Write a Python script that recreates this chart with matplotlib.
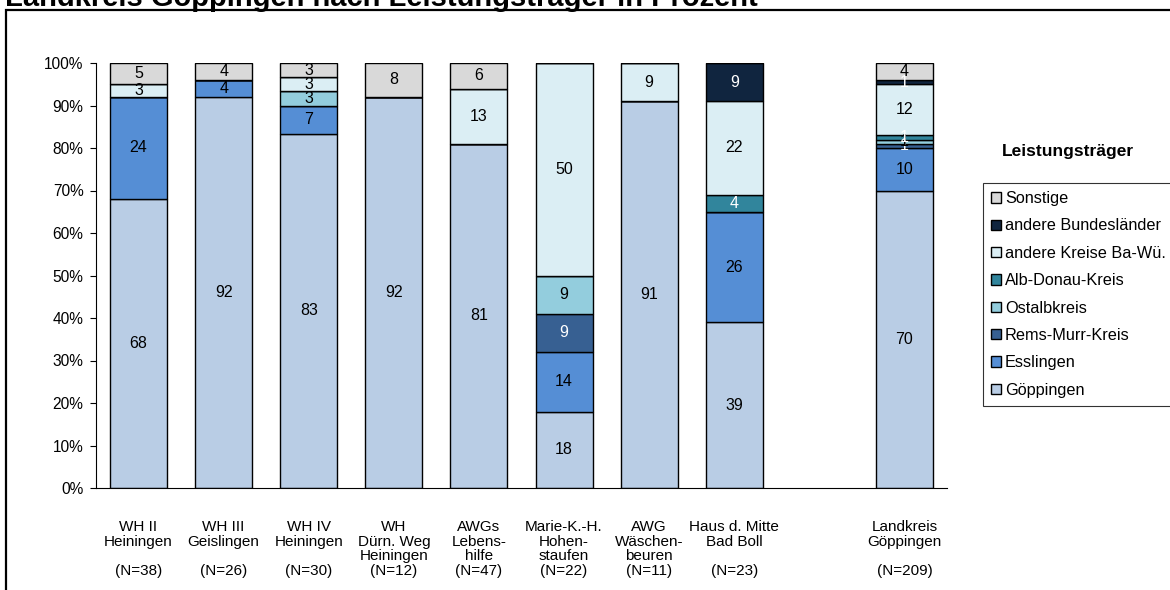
import matplotlib
matplotlib.use('Agg')
import matplotlib.pyplot as plt
from matplotlib.patches import Rectangle
import numpy as np

plt.rcParams['font.family'] = ['Liberation Sans', 'DejaVu Sans']

# Einrichtungen (Landkreis steht etwas abgesetzt rechts)
categories = ['WH II\nHeiningen\n\n(N=38)', 'WH III\nGeislingen\n\n(N=26)',
              'WH IV\nHeiningen\n\n(N=30)', 'WH\nDürn. Weg\nHeiningen\n(N=12)',
              'AWGs\nLebens-\nhilfe\n(N=47)', 'Marie-K.-H.\nHohen-\nstaufen\n(N=22)',
              'AWG\nWäschen-\nbeuren\n(N=11)', 'Haus d. Mitte\nBad Boll\n\n(N=23)',
              'Landkreis\nGöppingen\n\n(N=209)']
positions = [0, 1, 2, 3, 4, 5, 6, 7, 9]

# Anteile in Prozent, von unten nach oben
goeppingen = [68, 92, 83.3, 92, 81, 18, 91, 39, 70]
esslingen = [24, 4, 6.7, 0, 0, 14, 0, 26, 10]
rems_murr = [0, 0, 0, 0, 0, 9, 0, 0, 1]
ostalb = [0, 0, 3.3, 0, 0, 9, 0, 0, 1]
alb_donau = [0, 0, 0, 0, 0, 0, 0, 4, 1]
andere_kreise = [3, 0, 3.3, 0, 13, 50, 9, 22, 12]
andere_bl = [0, 0, 0, 0, 0, 0, 0, 9, 1]
sonstige = [5, 4, 3.3, 8, 6, 0, 0, 0, 4]

series = [('Göppingen', goeppingen, '#B9CDE5', 'black'),
          ('Esslingen', esslingen, '#558ED5', 'black'),
          ('Rems-Murr-Kreis', rems_murr, '#376092', 'white'),
          ('Ostalbkreis', ostalb, '#93CDDD', 'black'),
          ('Alb-Donau-Kreis', alb_donau, '#31859C', 'white'),
          ('andere Kreise Ba-Wü.', andere_kreise, '#DBEEF4', 'black'),
          ('andere Bundesländer', andere_bl, '#10253F', 'white'),
          ('Sonstige', sonstige, '#D9D9D9', 'black')]

fig = plt.figure(figsize=(11.7, 5.9), dpi=100)
ax = fig.add_axes([96 / 1170, 102 / 590, 851 / 1170, 425 / 590])

bottom = np.zeros(len(positions))
handles = []
for name, vals, col, tcol in series:
    vals = np.array(vals, dtype=float)
    b = ax.bar(positions, vals, bottom=bottom, width=0.67, color=col,
               edgecolor='black', linewidth=1.0, label=name)
    handles.append(b)
    for x, v, b0 in zip(positions, vals, bottom):
        if v > 0:
            ax.text(x, b0 + v / 2, f'{round(v)}', ha='center', va='center',
                    fontsize=11.5, color=tcol)
    bottom += vals

ax.set_xlim(-0.5, 9.5)
ax.set_ylim(0, 100)
ax.set_yticks(range(0, 101, 10))
ax.set_yticklabels([f'{v}%' for v in range(0, 101, 10)], fontsize=11.2)
ax.set_xticks(positions)
ax.set_xticklabels(categories, fontsize=11, linespacing=1.06)
ax.tick_params(axis='x', length=0, pad=23)
ax.tick_params(axis='y', length=4.5, width=0.8, pad=4.5)
for s in ['top', 'right']:
    ax.spines[s].set_visible(False)
for s in ['left', 'bottom']:
    ax.spines[s].set_linewidth(0.8)

leg = fig.legend(handles[::-1], [h.get_label() for h in handles[::-1]],
                 loc='upper left', bbox_to_anchor=(983 / 1170, 1 - 183 / 590, 220 / 1170, 0),
                 mode='expand', fontsize=11.7, frameon=True, fancybox=False,
                 handlelength=0.6, handleheight=0.6, handletextpad=0.25,
                 labelspacing=0.76, borderpad=0.5, borderaxespad=0)
leg.get_frame().set_edgecolor('black')
leg.get_frame().set_linewidth(0.8)
for h in leg.legend_handles:
    h.set_edgecolor('black')
    h.set_linewidth(1.0)

fig.text(1002 / 1170, 1 - 152 / 590, 'Leistungsträger', fontsize=12.5,
         fontweight='bold', va='center', ha='left')

# Titel oben abgeschnitten wie im Original
fig.text(5 / 1170, 1 - 6 / 590, 'Landkreis Göppingen nach Leistungsträger in Prozent',
         fontsize=21, fontweight='bold', va='baseline', ha='left')

# Rahmen um das Diagramm
fig.patches.append(Rectangle((6 / 1170, -0.1), 1.2, 1.1 - 10 / 590,
                             transform=fig.transFigure, fill=False,
                             edgecolor='black', linewidth=1.6))

fig.savefig('out.png', dpi=100)
